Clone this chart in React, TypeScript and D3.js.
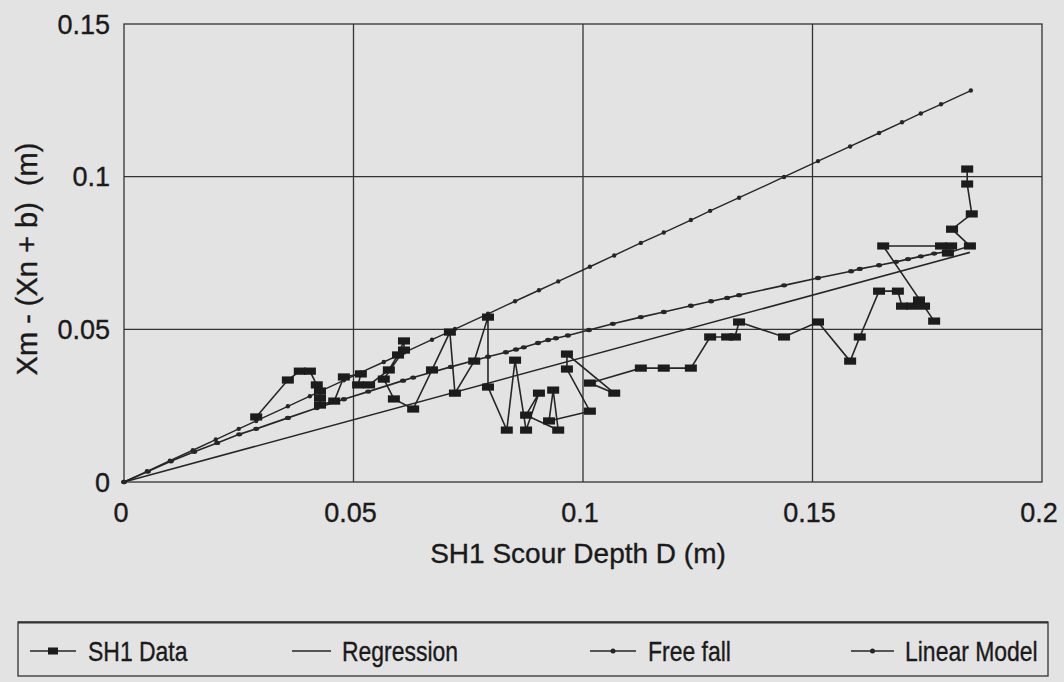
import React from "react";
import * as d3 from "d3";

// ---- Data ----
const dataX = [0.0288, 0.0357, 0.0383, 0.0405, 0.0420, 0.0427, 0.0427, 0.0427, 0.0458, 0.0479, 0.0516, 0.0510, 0.0534, 0.0577, 0.0597, 0.0610, 0.0610, 0.0566, 0.0588, 0.0630, 0.0671, 0.0710, 0.0721, 0.0763, 0.0793, 0.0793, 0.0834, 0.0852, 0.0876, 0.0904, 0.0876, 0.0946, 0.0935, 0.0926, 0.1015, 0.0965, 0.0965, 0.1068, 0.1015, 0.1126, 0.1176, 0.1235, 0.1277, 0.1314, 0.1331, 0.1340, 0.1438, 0.1512, 0.1582, 0.1603, 0.1645, 0.1686, 0.1695, 0.1717, 0.1732, 0.1743, 0.1765, 0.1654, 0.1780, 0.1802, 0.1795, 0.1843, 0.1804, 0.1847, 0.1837, 0.1837];
const dataY = [0.0213, 0.0334, 0.0363, 0.0363, 0.0318, 0.0298, 0.0275, 0.0252, 0.0265, 0.0344, 0.0354, 0.0318, 0.0318, 0.0367, 0.0416, 0.0462, 0.0432, 0.0337, 0.0272, 0.0239, 0.0367, 0.0491, 0.0291, 0.0396, 0.0540, 0.0311, 0.0170, 0.0399, 0.0170, 0.0291, 0.0219, 0.0170, 0.0301, 0.0200, 0.0232, 0.0370, 0.0419, 0.0291, 0.0324, 0.0373, 0.0373, 0.0373, 0.0475, 0.0475, 0.0475, 0.0524, 0.0475, 0.0524, 0.0396, 0.0475, 0.0625, 0.0625, 0.0576, 0.0576, 0.0596, 0.0576, 0.0527, 0.0773, 0.0773, 0.0773, 0.0750, 0.0773, 0.0828, 0.0878, 0.0976, 0.1025];

const regressionX = [0, 0.1843];
const regressionY = [0, 0.0752];

const freeFallX = [0, 0.0052, 0.0102, 0.0153, 0.0203, 0.0251, 0.0288, 0.0357, 0.0420, 0.0479, 0.0532, 0.0608, 0.0630, 0.0712, 0.0793, 0.0832, 0.0854, 0.0871, 0.0902, 0.0924, 0.0941, 0.0967, 0.1013, 0.1065, 0.1126, 0.1176, 0.1235, 0.1279, 0.1314, 0.1340, 0.1438, 0.1512, 0.1584, 0.1603, 0.1645, 0.1682, 0.1708, 0.1736, 0.1765, 0.1791];
const freeFallY = [0, 0.0034, 0.0068, 0.0099, 0.0128, 0.0156, 0.0174, 0.0210, 0.0242, 0.0271, 0.0296, 0.0332, 0.0342, 0.0377, 0.0410, 0.0425, 0.0434, 0.0441, 0.0455, 0.0465, 0.0471, 0.0480, 0.0498, 0.0518, 0.0540, 0.0557, 0.0577, 0.0592, 0.0603, 0.0612, 0.0644, 0.0668, 0.0690, 0.0698, 0.0710, 0.0721, 0.0730, 0.0739, 0.0748, 0.0754];

const linearX = [0, 0.005, 0.010, 0.015, 0.020, 0.025, 0.0288, 0.0357, 0.0405, 0.0427, 0.0479, 0.0516, 0.0566, 0.0610, 0.0671, 0.0721, 0.0793, 0.0852, 0.0904, 0.0946, 0.1015, 0.1068, 0.1126, 0.1176, 0.1235, 0.1277, 0.1340, 0.1438, 0.1512, 0.1582, 0.1645, 0.1695, 0.1736, 0.1780, 0.1845];
const linearY = [0, 0.0035, 0.0070, 0.0104, 0.0139, 0.0174, 0.0200, 0.0248, 0.0281, 0.0297, 0.0333, 0.0359, 0.0393, 0.0424, 0.0466, 0.0501, 0.0551, 0.0592, 0.0628, 0.0657, 0.0705, 0.0742, 0.0783, 0.0817, 0.0858, 0.0888, 0.0931, 0.0999, 0.1051, 0.1099, 0.1143, 0.1178, 0.1207, 0.1237, 0.1282];

const xTicks = [0, 0.05, 0.1, 0.15, 0.2];
const xTickLabels = ["0", "0.05", "0.1", "0.15", "0.2"];
const yTicks = [0, 0.05, 0.1, 0.15];
const yTickLabels = ["0", "0.05", "0.1", "0.15"];

const xTitle = "SH1 Scour Depth D (m)";
const yTitle = "Xm - (Xn + b)  (m)";
const legendNames = ["SH1 Data", "Regression", "Free fall", "Linear Model"];

// ---- Styling / layout ----
const W = 1064;
const H = 682;
const BG = "#e3e3e3";
const INK = "#262626";
const TXT = "#1a1a1a";
const FONT = "'Liberation Sans', Arial, Helvetica, sans-serif";

type P = [number, number];
const zip = (xs: number[], ys: number[]): P[] => xs.map((x, i) => [x, ys[i]]);

export default function App() {
  const x = d3.scaleLinear().domain([0, 0.2]).range([124, 1042]);
  const y = d3.scaleLinear().domain([0, 0.15]).range([482, 24]);
  const line = d3
    .line<P>()
    .x((d) => x(d[0]))
    .y((d) => y(d[1]));

  const data = zip(dataX, dataY);
  const reg = zip(regressionX, regressionY);
  const ff = zip(freeFallX, freeFallY);
  const lin = zip(linearX, linearY);

  const legendY = 651;
  const legendItems = [
    { x0: 30, x1: 76, tx: 88, kind: "square" },
    { x0: 292, x1: 331, tx: 342, kind: "none" },
    { x0: 590, x1: 636, tx: 648, kind: "dot" },
    { x0: 851, x1: 894, tx: 905, kind: "dot" },
  ];

  const textStyle = { stroke: TXT, strokeWidth: 0.35 } as React.CSSProperties;

  return (
    <svg
      width={W}
      height={H}
      viewBox={`0 0 ${W} ${H}`}
      style={{ position: "absolute", left: 0, top: 0, display: "block" }}
    >
      <rect x={0} y={0} width={W} height={H} fill={BG} />

      {/* grid lines */}
      {xTicks.slice(1, -1).map((t) => (
        <line key={"gx" + t} x1={x(t)} x2={x(t)} y1={y(0)} y2={y(0.15)} stroke="#333" strokeWidth={1.3} />
      ))}
      {yTicks.slice(1, -1).map((t) => (
        <line key={"gy" + t} x1={x(0)} x2={x(0.2)} y1={y(t)} y2={y(t)} stroke="#333" strokeWidth={1.3} />
      ))}
      {/* plot frame */}
      <rect
        x={x(0)}
        y={y(0.15)}
        width={x(0.2) - x(0)}
        height={y(0) - y(0.15)}
        fill="none"
        stroke="#333"
        strokeWidth={1.3}
      />

      {/* Regression */}
      <path d={line(reg) || ""} fill="none" stroke={INK} strokeWidth={1.6} />
      {/* Linear model */}
      <path d={line(lin) || ""} fill="none" stroke={INK} strokeWidth={1.4} />
      {lin.map((d, i) => (
        <circle key={"l" + i} cx={x(d[0])} cy={y(d[1])} r={2.2} fill={INK} />
      ))}
      {/* Free fall */}
      <path d={line(ff) || ""} fill="none" stroke={INK} strokeWidth={1.6} />
      {ff.map((d, i) => (
        <ellipse key={"f" + i} cx={x(d[0])} cy={y(d[1])} rx={3} ry={2.2} fill={INK} />
      ))}
      {/* SH1 data */}
      <path d={line(data) || ""} fill="none" stroke={INK} strokeWidth={1.6} />
      {data.map((d, i) => (
        <rect key={"d" + i} x={x(d[0]) - 6} y={y(d[1]) - 3.6} width={12} height={7.2} fill="#1c1c1c" />
      ))}

      {/* tick labels */}
      {xTicks.map((t, i) => (
        <text key={"tx" + t} x={x(t) - 3} y={522} textAnchor="middle" fontFamily={FONT} fontSize={27} fill={TXT} style={textStyle}>
          {xTickLabels[i]}
        </text>
      ))}
      {yTicks.map((t, i) => (
        <text key={"ty" + t} x={110} y={y(t) + 9.5} textAnchor="end" fontFamily={FONT} fontSize={27} fill={TXT} style={textStyle}>
          {yTickLabels[i]}
        </text>
      ))}

      {/* axis titles */}
      <text x={578} y={563} textAnchor="middle" fontFamily={FONT} fontSize={28} fill={TXT} style={textStyle}>
        {xTitle}
      </text>
      <text
        transform={`translate(37, 259) rotate(-90)`}
        textAnchor="middle"
        fontFamily={FONT}
        fontSize={29}
        fill={TXT}
        style={{ ...textStyle, whiteSpace: "pre" }}
      >
        {yTitle}
      </text>

      {/* legend */}
      <rect x={18} y={622} width={1030} height={54} fill="none" stroke="#333" strokeWidth={1.3} />
      <line x1={18} x2={1048} y1={622.5} y2={622.5} stroke="#333" strokeWidth={2.2} />
      {legendItems.map((it, i) => (
        <g key={"lg" + i}>
          <line x1={it.x0} x2={it.x1} y1={legendY} y2={legendY} stroke={INK} strokeWidth={1.6} />
          {it.kind === "square" && (
            <rect x={(it.x0 + it.x1) / 2 - 5} y={legendY - 3.5} width={10} height={7} fill="#1c1c1c" />
          )}
          {it.kind === "dot" && <circle cx={(it.x0 + it.x1) / 2} cy={legendY} r={2.5} fill={INK} />}
          <text
            transform={`translate(${it.tx}, ${legendY + 10}) scale(0.82, 1)`}
            fontFamily={FONT}
            fontSize={28}
            fill={TXT}
            style={textStyle}
          >
            {legendNames[i]}
          </text>
        </g>
      ))}
    </svg>
  );
}
